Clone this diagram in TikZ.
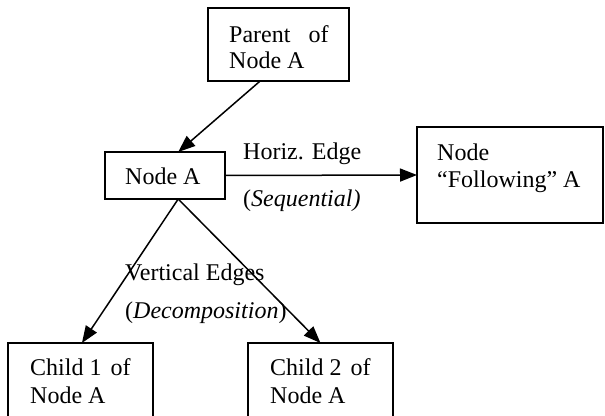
\documentclass[tikz,border=0pt]{standalone}
\usepackage{fontspec}
\setmainfont{Liberation Serif}
\usetikzlibrary{arrows.meta,calc}
\begin{document}
\begin{tikzpicture}[x=1pt,y=-1pt,
  box/.style={draw,line width=1.5pt,inner sep=0pt,outer sep=0pt},
  txt/.style={anchor=base west,inner sep=0pt,font=\fontsize{24}{30}\selectfont},
  conn/.style={line width=1.5pt,-{Triangle[length=17pt,width=13pt]}}]
\useasboundingbox (0,0) rectangle (605,415);
\clip (0,0) rectangle (605,415);
% boxes
\node[box,minimum width=141pt,minimum height=73pt] (parent) at (278.5,44.5) {};
\node[box,minimum width=120pt,minimum height=47pt] (nodea) at (165,175.5) {};
\node[box,minimum width=186pt,minimum height=96pt] (follow) at (510,175) {};
\node[box,minimum width=145pt,minimum height=90pt] (child1) at (80.5,388) {};
\node[box,minimum width=145pt,minimum height=90pt] (child2) at (320.5,388) {};
% texts
\node[txt] (t1) at (229,42) {Parent\hspace{18pt}of};
\node[txt] (t2) at (229,68) {Node A};
\node[txt] (t3) at (125,184) {Node A};
\node[txt] (t4) at (437,160) {Node};
\node[txt] (t5) at (437,187) {“Following” A};
\node[txt] (t6) at (243,159) {Horiz. Edge};
\node[txt] (t7) at (243,206) {(\textit{Sequential)}};
\node[txt] (t8) at (125,280) {Vertical Edges};
\node[txt] (t9) at (125,318) {(\textit{Decomposition})};
\node[txt] (t10) at (30,375) {Child 1\hspace{9pt}of};
\node[txt] (t11) at (30,403) {Node A};
\node[txt] (t12) at (270,375) {Child 2\hspace{9pt}of};
\node[txt] (t13) at (270,403) {Node A};
% connectors
\draw[conn] ($(parent.south west)!0.37!(parent.south east)$) -- ($(nodea.north west)!0.61!(nodea.north east)$);
\draw[conn] (nodea.east) -- (follow.west);
\draw[conn] ($(nodea.south west)!0.61!(nodea.south east)$) -- ($(child1.north west)!0.51!(child1.north east)$);
\draw[conn] ($(nodea.south west)!0.61!(nodea.south east)$) -- (child2.north);
\end{tikzpicture}
\end{document}
